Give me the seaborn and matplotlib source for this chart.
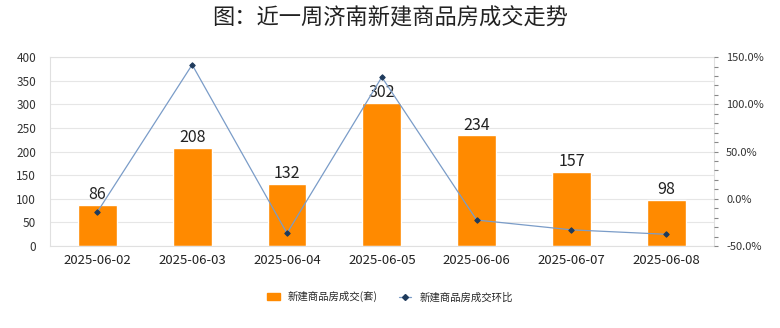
import matplotlib
matplotlib.use("Agg")
import matplotlib.pyplot as plt
import seaborn as sns
import numpy as np
from matplotlib.ticker import MultipleLocator, FuncFormatter
from matplotlib.lines import Line2D
from matplotlib.patches import Patch

dates = ["2025-06-02", "2025-06-03", "2025-06-04", "2025-06-05", "2025-06-06", "2025-06-07", "2025-06-08"]
deals = [86, 208, 132, 302, 234, 157, 98]
mom_pct = [-14.0, 141.9, -36.5, 128.8, -22.5, -32.9, -37.6]

title = "图：近一周济南新建商品房成交走势"
bar_label = "新建商品房成交(套)"
line_label = "新建商品房成交环比"

sns.set_theme(style="white")
plt.rcParams['font.family'] = ['Noto Sans CJK SC', 'DejaVu Sans']

bar_color = "#FF8A00"
line_color = "#7A9CC8"
marker_color = "#1F3B5C"

fig = plt.figure(figsize=(7.8, 3.28), dpi=100)
fig.patch.set_facecolor("white")
ax = fig.add_axes([0.064, 0.25, 0.851, 0.576])
ax.set_facecolor("white")

sns.barplot(x=dates, y=deals, color=bar_color, width=0.41, ax=ax, saturation=1)
ax.set_ylim(0, 400)
ax.set_xlim(-0.5, len(dates) - 0.5)
ax.yaxis.set_major_locator(MultipleLocator(50))
ax.grid(axis="y", color="#E6E6E6", linewidth=0.8)
ax.set_axisbelow(True)
for s in ax.spines.values():
    s.set_color("#E0E0E0")
    s.set_linewidth(0.8)
ax.tick_params(axis="y", length=0, labelsize=8.5, colors="#333333", pad=10)
ax.tick_params(axis="x", length=0, labelsize=9.5, colors="#222222", pad=6)
ax.set_xlabel("")
ax.set_ylabel("")
for i, v in enumerate(deals):
    ax.text(i, v + 4, str(v), ha="center", va="bottom", fontsize=11.5, color="#222222")

ax2 = ax.twinx()
sns.lineplot(x=np.arange(len(dates)), y=mom_pct, ax=ax2, color=line_color, linewidth=0.9,
             marker="D", markersize=2.8, markerfacecolor=marker_color, markeredgecolor=marker_color)
ax2.set_ylim(-50, 150)
ax2.yaxis.set_major_locator(MultipleLocator(50))
ax2.yaxis.set_minor_locator(MultipleLocator(10))
ax2.yaxis.set_major_formatter(FuncFormatter(lambda v, p: f"{v:.1f}%"))
ax2.tick_params(axis="y", which="major", length=3, width=0.8, labelsize=8, labelcolor="#333333", pad=6)
ax2.tick_params(axis="y", which="minor", length=3, width=0.8)
ax2.tick_params(axis="y", which="both", color="#888888")
for s in ax2.spines.values():
    s.set_visible(False)
ax2.grid(False)
ax2.set_ylabel("")

fig.text(0.5, 0.945, title, ha="center", va="center", fontsize=16, color="#222222")

handles = [Patch(facecolor=bar_color, edgecolor=bar_color),
           Line2D([0], [0], color=line_color, linewidth=0.9, marker="D", markersize=3,
                  markerfacecolor=marker_color, markeredgecolor=marker_color)]
fig.legend(handles, [bar_label, line_label], loc="center", bbox_to_anchor=(0.5, 0.095), ncol=2,
           frameon=False, fontsize=7.5, handlelength=1.2, handleheight=0.7, columnspacing=2.0, handletextpad=0.8)

fig.savefig("out.png", dpi=100, facecolor="white")
